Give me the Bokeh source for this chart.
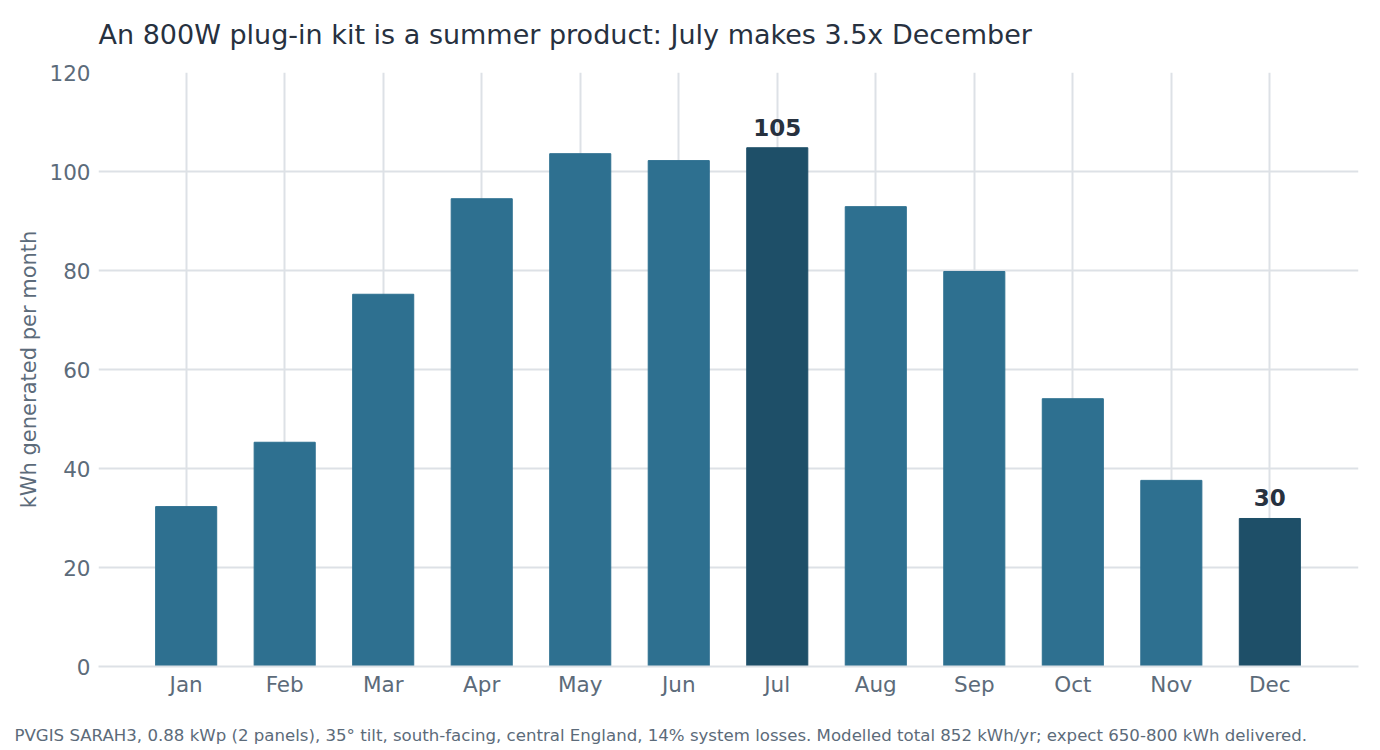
from bokeh.plotting import figure
from bokeh.models import ColumnDataSource, Range1d, FixedTicker, Title
from bokeh.core.properties import value
from bokeh.embed import file_html
from bokeh.resources import INLINE

# Modelled monthly output (kWh) for an 800W plug-in kit
months = ["Jan", "Feb", "Mar", "Apr", "May", "Jun",
          "Jul", "Aug", "Sep", "Oct", "Nov", "Dec"]
kwh = [32.3, 45.3, 75.2, 94.5, 103.6, 102.2,
       104.8, 92.9, 79.8, 54.1, 37.6, 29.9]
highlight = ["Jul", "Dec"]
y_ticks = [0, 20, 40, 60, 80, 100, 120]

TITLE = "An 800W plug-in kit is a summer product: July makes 3.5x December"
NOTE = ("PVGIS SARAH3, 0.88 kWp (2 panels), 35\u00b0 tilt, south-facing, "
        "central England, 14% system losses. Modelled total 852 kWh/yr; "
        "expect 650-800 kWh delivered.")

BASE = "#2e7090"
DARK = "#1e4f68"
TEXT = "#27313f"
MUTED = "#5c6b7a"
GRID = "#dde1e6"
FONT = "DejaVu Sans"

idx = list(range(len(months)))
colors = [DARK if m in highlight else BASE for m in months]
src = ColumnDataSource(dict(x=idx, top=kwh, color=colors))

p = figure(width=1380, height=750, output_backend="svg", toolbar_location=None,
           x_range=Range1d(-0.89, 11.9), y_range=Range1d(0, 120),
           min_border_left=98, min_border_right=22, min_border_top=72,
           min_border_bottom=84)

p.vbar(x="x", top="top", width=0.62, color="color", source=src)

# value labels on the highlighted months
hx = [i for i, m in enumerate(months) if m in highlight]
hv = [kwh[i] for i in hx]
p.text(x=hx, y=hv, text=[f"{v:.0f}" for v in hv], text_align="center",
       text_baseline="bottom", y_offset=-12, text_font=value(FONT),
       text_font_style="bold", text_font_size="23px", text_color=TEXT)


def spacer(px):
    # blank title used only to push the next panel item away from the frame
    return Title(text=" ", text_font_size="1px", standoff=px)


# headline (outermost item above the frame)
p.add_layout(spacer(19.5), "above")
p.title.text = TITLE
p.title.text_font = FONT
p.title.text_font_size = "27px"
p.title.text_font_style = "normal"
p.title.text_color = TEXT
p.title.standoff = 0

# source note beneath the month labels
p.add_layout(spacer(21), "below")
p.add_layout(Title(text=NOTE, text_font=FONT, text_font_size="16.6px",
                   text_font_style="normal", text_color=MUTED, align="left",
                   offset=-84, standoff=0), "below")

p.xaxis.ticker = FixedTicker(ticks=idx)
p.xaxis.major_label_overrides = {i: m for i, m in enumerate(months)}
p.yaxis.ticker = FixedTicker(ticks=y_ticks)
p.yaxis.axis_label = "kWh generated per month"

for ax in (p.xaxis, p.yaxis):
    ax.major_label_text_font = FONT
    ax.major_label_text_font_size = "21.5px"
    ax.major_label_text_color = MUTED
    ax.major_tick_line_color = None
    ax.minor_tick_line_color = None
    ax.major_tick_out = 0
    ax.major_tick_in = 0
p.xaxis.axis_line_color = GRID
p.xaxis.axis_line_width = 2
p.yaxis.axis_line_color = None
p.yaxis.axis_label_text_font = FONT
p.yaxis.axis_label_text_font_size = "21px"
p.yaxis.axis_label_text_font_style = "normal"
p.yaxis.axis_label_text_color = MUTED
p.xaxis.major_label_standoff = 5
p.yaxis.major_label_standoff = 8

p.grid.grid_line_color = GRID
p.grid.grid_line_width = 2
p.outline_line_color = None
p.background_fill_color = "white"
p.border_fill_color = "white"

open("out.html", "w").write(file_html(p, INLINE))
